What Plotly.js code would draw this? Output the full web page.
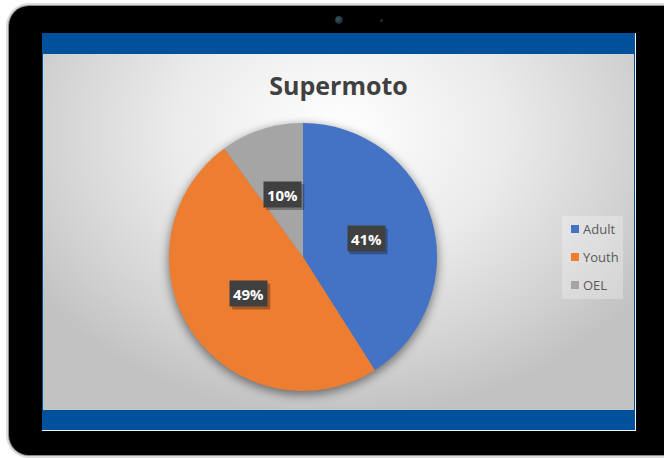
<!DOCTYPE html>
<html>
<head>
<meta charset="utf-8">
<script src="https://cdn.plot.ly/plotly-3.0.1.min.js"></script>
<style>
  html, body { margin: 0; padding: 0; background: #ffffff; width: 664px; height: 458px; overflow: hidden; }
  #frame { position: absolute; left: 9px; top: 6px; width: 720px; height: 449px; background: #000;
           border-radius: 20px; box-shadow: 0 0 0 1px #8c8c8c, 0 0 0 3px #dcdcdc; }
  #cam { position: absolute; left: 335px; top: 16px; width: 8px; height: 8px; border-radius: 50%;
         background: radial-gradient(circle at 40% 40%, #3c5a66 0%, #14232a 70%); }
  #dot { position: absolute; left: 380px; top: 19px; width: 3px; height: 3px; border-radius: 50%; background: #2a2a2a; }
  #screen { position: absolute; left: 42px; top: 33px; width: 593px; height: 397px; background: #00509b;
            border-right: 1px solid #f4f4f4; border-bottom: 1px solid #f4f4f4; }
  #content { position: absolute; left: 1px; top: 21px; width: 591px; height: 356px; overflow: hidden;
             background: radial-gradient(ellipse 62% 80% at 50% 22%, #ffffff 0%, #ebebeb 45%, #d2d2d2 80%, #c2c2c2 100%); }
  #pieshadow { position: absolute; border-radius: 50%; background: #888; box-shadow: 0 3px 10px 2px rgba(0,0,0,0.45); }
  #chart { position: absolute; left: 0; top: 0; width: 591px; height: 356px; }
</style>
</head>
<body>
<div id="frame"></div>
<div id="cam"></div>
<div id="dot"></div>
<div id="screen">
  <div id="content">
    <div id="pieshadow"></div>
    <div id="chart"></div>
  </div>
</div>
<script>
const categories = ['Adult', 'Youth', 'OEL'];
const values = [41, 49, 10];
const colors = ['#4472C4', '#ED7D31', '#A5A5A5'];
const chartTitle = 'Supermoto';

// plot geometry (pixels inside the chart div)
const W = 591, H = 356;
const CX = 260, CY = 203, R = 134;
const BOXW = 37, BOXH = 25;

const dom = {
  x: [(CX - R) / W, (CX + R) / W],
  y: [1 - (CY + R) / H, 1 - (CY - R) / H]
};

const sh = document.getElementById('pieshadow');
sh.style.left = (CX - R + 1) + 'px';
sh.style.top = (CY - R + 1) + 'px';
sh.style.width = (2 * R - 2) + 'px';
sh.style.height = (2 * R - 2) + 'px';

const total = values.reduce((a, b) => a + b, 0);
const annotations = [];
const shapes = [];
let cum = 0;
values.forEach((v, i) => {
  const mid = (cum + v / 2) / total * 2 * Math.PI;
  cum += v;
  const px = CX + 0.49 * R * Math.sin(mid);
  const py = CY - 0.49 * R * Math.cos(mid);
  const txt = Math.round(v / total * 100) + '%';
  // soft shadow behind the label box
  shapes.push({
    type: 'rect', xref: 'paper', yref: 'paper',
    x0: (px - BOXW / 2 + 2) / W, x1: (px + BOXW / 2 + 3) / W,
    y0: 1 - (py + BOXH / 2 + 3) / H, y1: 1 - (py - BOXH / 2 + 2) / H,
    fillcolor: 'rgba(0,0,0,0.28)', line: { width: 0 }, layer: 'above'
  });
  annotations.push({
    xref: 'paper', yref: 'paper', x: px / W, y: 1 - py / H,
    xanchor: 'center', yanchor: 'middle', showarrow: false, text: txt,
    width: BOXW, height: BOXH, borderpad: 0, bgcolor: '#404040',
    font: { family: 'Open Sans', size: 15, weight: 'bold', color: '#ffffff' }
  });
});

// legend (drawn with shapes + annotations)
const LX0 = 519, LX1 = 580, LY0 = 162, LY1 = 245;
shapes.push({
  type: 'rect', xref: 'paper', yref: 'paper',
  x0: LX0 / W, x1: LX1 / W, y0: 1 - LY1 / H, y1: 1 - LY0 / H,
  fillcolor: 'rgba(255,255,255,0.28)', line: { width: 0 }, layer: 'below'
});
categories.forEach((c, i) => {
  const yc = 175 + i * 28;
  shapes.push({
    type: 'rect', xref: 'paper', yref: 'paper',
    x0: 528 / W, x1: 536 / W, y0: 1 - (yc + 4) / H, y1: 1 - (yc - 4) / H,
    fillcolor: colors[i], line: { width: 0 }
  });
  annotations.push({
    xref: 'paper', yref: 'paper', x: 538 / W, y: 1 - yc / H,
    xanchor: 'left', yanchor: 'middle', showarrow: false, text: c,
    font: { family: 'Open Sans', size: 13, color: '#595959' }
  });
});

const data = [{
  type: 'pie',
  labels: categories,
  values: values,
  sort: false,
  direction: 'clockwise',
  rotation: 0,
  textinfo: 'none',
  hoverinfo: 'none',
  marker: { colors: colors, line: { width: 0 } },
  domain: dom,
  showlegend: false
}];

const layout = {
  width: W, height: H,
  margin: { l: 0, r: 0, t: 0, b: 0 },
  paper_bgcolor: 'rgba(0,0,0,0)',
  plot_bgcolor: 'rgba(0,0,0,0)',
  showlegend: false,
  title: {
    text: chartTitle,
    x: 0.5, xref: 'paper', xanchor: 'center',
    y: 1 - 32 / H, yref: 'container', yanchor: 'middle',
    font: { family: 'Open Sans', size: 25, weight: 'bold', color: '#404040' }
  },
  shapes: shapes,
  annotations: annotations
};

Plotly.newPlot('chart', data, layout, { displayModeBar: false, staticPlot: true });
</script>
</body>
</html>
